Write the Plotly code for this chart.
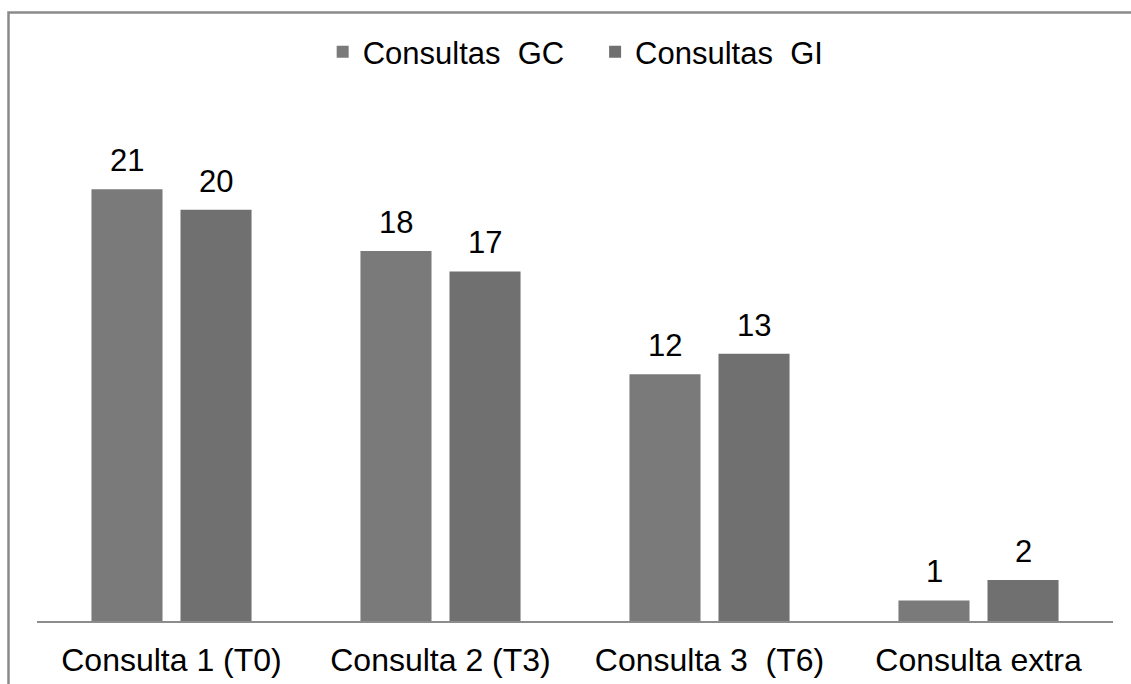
import plotly.graph_objects as go

categories = ["Consulta 1 (T0)", "Consulta 2 (T3)", "Consulta 3  (T6)", "Consulta extra"]
series_names = ["Consultas  GC", "Consultas  GI"]
gc_values = [21, 18, 12, 1]
gi_values = [20, 17, 13, 2]

W, H = 1131, 684
ml, mr, mt, mb = 37, 18, 107, 63
FONT = "Liberation Sans, Arial, sans-serif"
FS = 31

def nb(s):
    return s.replace("  ", "\u00a0\u00a0")

cats = [nb(c) for c in categories]
fig = go.Figure()
specs = [(nb(series_names[0]) + "\u00a0\u00a0\u00a0", gc_values, "#7a7a7a", -44.5),
         (nb(series_names[1]), gi_values, "#707070", 44.5)]
annotations = []
for name, vals, col, shift in specs:
    fig.add_trace(go.Bar(
        x=cats, y=vals, name=name,
        marker=dict(color=col, line=dict(width=0)),
    ))
    for c, v in zip(cats, vals):
        annotations.append(dict(x=c, y=v, xref="x", yref="y", text=str(v),
                                showarrow=False, xshift=shift, yanchor="bottom",
                                yshift=9, font=dict(size=FS, family=FONT, color="#000000")))

fig.update_layout(
    width=W, height=H,
    margin=dict(l=ml, r=mr, t=mt, b=mb, autoexpand=False),
    paper_bgcolor="white", plot_bgcolor="white",
    barmode="group", bargap=0.338, bargroupgap=0.202,
    font=dict(family=FONT, size=FS, color="#000000"),
    showlegend=True,
    legend=dict(orientation="h", x=0.509, xanchor="center", xref="container",
                y=1 - 52 / H, yanchor="middle", yref="container",
                font=dict(size=31, family=FONT), itemwidth=30,
                traceorder="normal"),
    xaxis=dict(showline=True, linecolor="#8c8c8c", linewidth=1.5, automargin=False,
               ticks="", showgrid=False, tickfont=dict(size=32, family=FONT),
               ticklabelstandoff=10),
    yaxis=dict(range=[0, 25], visible=False, showgrid=False, zeroline=False),
    annotations=annotations,
    shapes=[dict(type="rect", xref="paper", yref="paper",
                 x0=(8.5 - ml) / (W - ml - mr), x1=1.2,
                 y0=-0.3, y1=1 + (mt - 12.5) / (H - mt - mb),
                 line=dict(color="#8a8a8a", width=2.5), layer="below")],
)

fig.write_html("out.html")
